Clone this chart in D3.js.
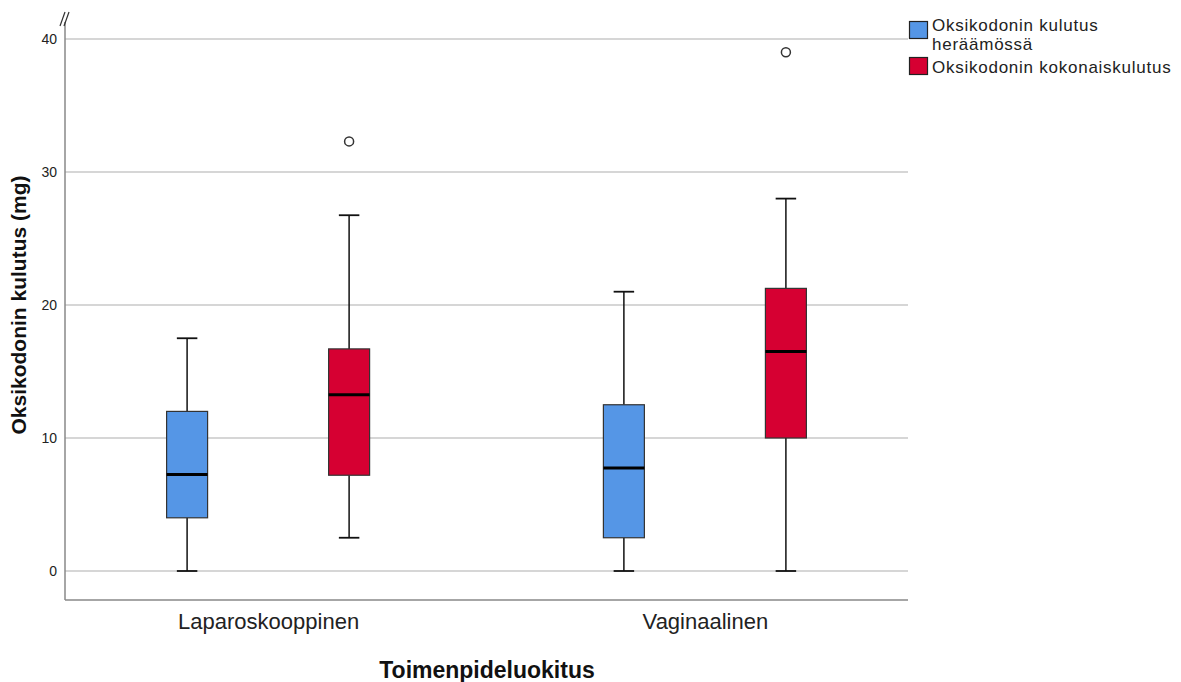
<!DOCTYPE html>
<html>
<head>
<meta charset="utf-8">
<script src="https://cdn.jsdelivr.net/npm/d3@7"></script>
<style>
  html, body { margin: 0; padding: 0; background: #fff; }
  svg { display: block; font-family: "Liberation Sans", Arial, sans-serif; }
</style>
</head>
<body>
<svg id="chart" width="1181" height="682"></svg>
<script>
// Oxycodone consumption by procedure type
const categories = ["Laparoskooppinen", "Vaginaalinen"];
const seriesNames = ["Oksikodonin kulutus heräämössä", "Oksikodonin kokonaiskulutus"];
const legendLines = [["Oksikodonin kulutus", "heräämössä"], ["Oksikodonin kokonaiskulutus"]];
const seriesColors = ["#5596e6", "#d60032"];

// [min whisker, Q1, median, Q3, max whisker] per category
const recoveryStats = [[0, 4.0, 7.25, 12.0, 17.5], [0, 2.5, 7.75, 12.5, 21.0]];
const totalStats = [[2.5, 7.2, 13.25, 16.7, 26.75], [0, 10.0, 16.5, 21.25, 28.0]];
const recoveryOutliers = [[], []];
const totalOutliers = [[32.3], [39.0]];
const yTicks = [0, 10, 20, 30, 40];

const svg = d3.select("#chart");
const plot = { left: 65, right: 908, top: 12, bottom: 600 };

const y = d3.scaleLinear().domain([0, 40]).range([571, 39]);
const x = d3.scalePoint().domain(categories).range([plot.left, plot.right]).padding(0.465);
const xSub = d3.scaleBand().domain([0, 1]).range([-101.5, 101.5]).paddingInner(0.747).paddingOuter(0);

// gridlines
svg.append("g").selectAll("line").data(yTicks).join("line")
  .attr("x1", plot.left).attr("x2", plot.right)
  .attr("y1", d => y(d)).attr("y2", d => y(d))
  .attr("stroke", "#c8c8c8").attr("stroke-width", 1.5);

// axes
const yAxis = d3.axisLeft(y).tickValues(yTicks).tickSize(0).tickPadding(8);
const gy = svg.append("g").attr("transform", `translate(${plot.left},0)`).call(yAxis);
gy.select(".domain").remove();
gy.selectAll("text").attr("font-size", 14).attr("fill", "#222").attr("font-family", "Liberation Sans, Arial, sans-serif");

const xAxis = d3.axisBottom(x).tickSize(0).tickPadding(13);
const gx = svg.append("g").attr("transform", `translate(0,${plot.bottom})`).call(xAxis);
gx.select(".domain").remove();
gx.selectAll("text").attr("font-size", 22).attr("fill", "#222").attr("font-family", "Liberation Sans, Arial, sans-serif");

svg.append("line").attr("x1", plot.left).attr("x2", plot.left)
  .attr("y1", plot.top + 10).attr("y2", plot.bottom)
  .attr("stroke", "#888").attr("stroke-width", 1.5);
svg.append("line").attr("x1", plot.left).attr("x2", plot.right)
  .attr("y1", plot.bottom).attr("y2", plot.bottom)
  .attr("stroke", "#888").attr("stroke-width", 1.5);

// axis break mark
const brk = svg.append("g").attr("stroke", "#333").attr("stroke-width", 1.2);
[-2.5, 1.5].forEach(dx => {
  brk.append("line")
    .attr("x1", plot.left + dx - 2.5).attr("y1", plot.top + 14)
    .attr("x2", plot.left + dx + 2.5).attr("y2", plot.top);
});

// boxes
const all = [recoveryStats, totalStats];
const outl = [recoveryOutliers, totalOutliers];
const bw = xSub.bandwidth();

all.forEach((stats, s) => {
  const g = svg.append("g");
  categories.forEach((cat, i) => {
    const [lo, q1, med, q3, hi] = stats[i];
    const x0 = x(cat) + xSub(s);
    const cx = x0 + bw / 2;
    const cap = bw / 2;
    // whiskers
    g.append("line").attr("x1", cx).attr("x2", cx).attr("y1", y(q3)).attr("y2", y(hi))
      .attr("stroke", "#111").attr("stroke-width", 1.5);
    g.append("line").attr("x1", cx).attr("x2", cx).attr("y1", y(q1)).attr("y2", y(lo))
      .attr("stroke", "#111").attr("stroke-width", 1.5);
    g.append("line").attr("x1", cx - cap / 2).attr("x2", cx + cap / 2).attr("y1", y(hi)).attr("y2", y(hi))
      .attr("stroke", "#111").attr("stroke-width", 1.8);
    g.append("line").attr("x1", cx - cap / 2).attr("x2", cx + cap / 2).attr("y1", y(lo)).attr("y2", y(lo))
      .attr("stroke", "#111").attr("stroke-width", 1.8);
    // box
    g.append("rect").attr("x", x0).attr("y", y(q3)).attr("width", bw).attr("height", y(q1) - y(q3))
      .attr("fill", seriesColors[s]).attr("stroke", "#333").attr("stroke-width", 1.2);
    // median
    g.append("line").attr("x1", x0).attr("x2", x0 + bw).attr("y1", y(med)).attr("y2", y(med))
      .attr("stroke", "#000").attr("stroke-width", 3);
    // outliers
    outl[s][i].forEach(v => {
      g.append("circle").attr("cx", cx).attr("cy", y(v)).attr("r", 4.5)
        .attr("fill", "#fff").attr("stroke", "#333").attr("stroke-width", 1.5);
    });
  });
});

// axis titles
svg.append("text").attr("x", 487).attr("y", 678).attr("text-anchor", "middle")
  .attr("font-size", 23).attr("font-weight", "bold").attr("fill", "#111")
  .text("Toimenpideluokitus");
svg.append("text").attr("transform", "translate(26,305) rotate(-90)").attr("text-anchor", "middle")
  .attr("font-size", 21).attr("font-weight", "bold").attr("fill", "#111")
  .text("Oksikodonin kulutus (mg)");

// legend
const leg = svg.append("g").attr("transform", "translate(909,21)");
const rows = [{ dy: 0, base: 9.5 }, { dy: 36, base: 15.5 }];
seriesNames.forEach((name, s) => {
  const r = leg.append("g").attr("transform", `translate(0,${rows[s].dy})`);
  r.append("rect").attr("x", 0.5).attr("y", 0.5).attr("width", 18).attr("height", 17)
    .attr("fill", seriesColors[s]).attr("stroke", "#222").attr("stroke-width", 1.2);
  legendLines[s].forEach((line, k) => {
    r.append("text").attr("x", 23).attr("y", rows[s].base + k * 19)
      .attr("font-size", 17).attr("letter-spacing", 0.75).attr("fill", "#222")
      .text(line);
  });
});
</script>
</body>
</html>
